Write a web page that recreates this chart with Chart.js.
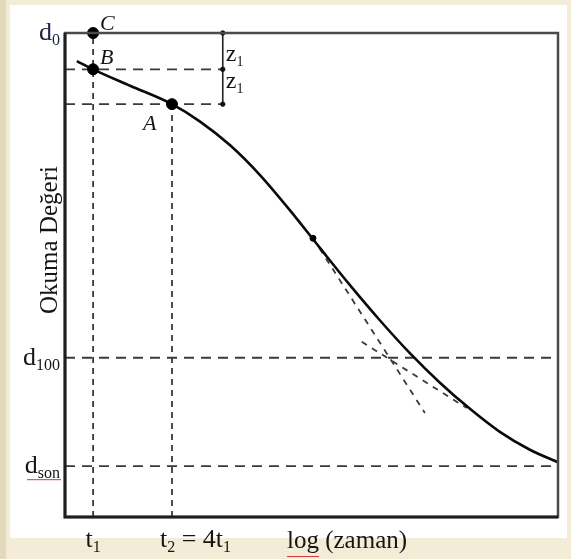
<!DOCTYPE html>
<html>
<head>
<meta charset="utf-8">
<script src="https://cdn.jsdelivr.net/npm/chart.js@4.4.1/dist/chart.umd.min.js"></script>
<style>
  body { margin: 0; background: #f3ecd7; }
  #wrap { width: 571px; height: 559px; }
</style>
</head>
<body>
<div id="wrap"><canvas id="consolidation" width="571" height="559"></canvas></div>
<script>
// consolidation curve: dial reading vs log(time), Casagrande construction
const logTime = [2.4, 5.7, 13.2, 21.7, 27.4, 33.5, 39.6, 45.6, 51.7, 57.8, 63.9, 70.0, 76.1, 82.2, 88.2, 94.3, 100];
const reading = [94.2, 92.5, 89.1, 85.3, 81.7, 76.8, 70.6, 63.4, 55.6, 47.9, 40.6, 33.8, 27.7, 22.3, 17.6, 13.9, 11.3];

// reference times and readings
const timeTicks = [5.7, 21.7];
const timeLabels = ['t_1', 't_2 = 4t_1'];
const readingTicks = [100, 32.9, 10.5];
const readingLabels = ['d_0', 'd_100', 'd_son'];

const dC = 100, dB = 92.5, dA = 85.3;
const zBarX = 32;

// tangent lines near the inflection and the tail
const tangentSteep = [[50.3, 57.6], [73.0, 21.5]];
const tangentTail = [[60.2, 36.2], [81.5, 22.5]];
const inflection = [50.3, 57.6];

const pts = arr => arr.map(p => ({x: p[0], y: p[1]}));
const curve = logTime.map((x, i) => ({x: x, y: reading[i]}));

function guide(points, dash) {
  return {
    data: pts(points), showLine: true, pointRadius: 0, clip: false,
    borderColor: '#3a3a3a', borderWidth: 1.8, borderDash: dash
  };
}

// draws text with "_xx" parts as subscripts
function richText(ctx, text, x, y, size, align) {
  const parts = [];
  text.split(/_(\w+)/).forEach((s, i) => { if (s) parts.push({s: s, sub: i % 2 === 1}); });
  const font = sub => (sub ? Math.round(size * 0.6) : size) + 'px "Liberation Serif", serif';
  let w = 0;
  parts.forEach(p => { ctx.font = font(p.sub); w += ctx.measureText(p.s).width; });
  let cx = align === 'right' ? x - w : align === 'center' ? x - w / 2 : x;
  parts.forEach(p => {
    ctx.font = font(p.sub);
    ctx.textAlign = 'left';
    ctx.fillText(p.s, cx, p.sub ? y + size * 0.2 : y);
    cx += ctx.measureText(p.s).width;
  });
}

const decorations = {
  id: 'decorations',
  beforeDraw(chart) {
    const ctx = chart.ctx;
    ctx.save();
    ctx.fillStyle = '#e3d9bc';
    ctx.fillRect(0, 0, 6, 559);
    ctx.fillStyle = '#ffffff';
    ctx.fillRect(10, 5, 557, 533);
    ctx.restore();
  },
  afterDraw(chart) {
    const ctx = chart.ctx;
    const a = chart.chartArea;
    const xs = chart.scales.x, ys = chart.scales.y;
    ctx.save();
    // frame
    ctx.strokeStyle = '#4a4a4a';
    ctx.lineWidth = 2.5;
    ctx.strokeRect(a.left, a.top, a.right - a.left, a.bottom - a.top);
    ctx.strokeStyle = '#1e1e1e';
    ctx.lineWidth = 3;
    ctx.beginPath();
    ctx.moveTo(a.left, a.top);
    ctx.lineTo(a.left, a.bottom);
    ctx.lineTo(a.right, a.bottom);
    ctx.stroke();

    ctx.fillStyle = '#151515';
    ctx.textBaseline = 'alphabetic';
    readingTicks.forEach((v, i) => {
      ctx.fillStyle = i === 0 ? '#1b2340' : '#151515';
      richText(ctx, readingLabels[i], a.left - 5, ys.getPixelForValue(v) + 7, 26, 'right');
    });
    // spell-check squiggle under d_son
    const ySon = ys.getPixelForValue(readingTicks[2]) + 12;
    ctx.strokeStyle = '#d23a3a';
    ctx.lineWidth = 1;
    ctx.beginPath();
    for (let x = 27; x <= 62; x += 2) ctx.lineTo(x, ySon + ((x / 2) % 2 ? 1.5 : 0));
    ctx.stroke();

    ctx.fillStyle = '#151515';
    richText(ctx, timeLabels[0], xs.getPixelForValue(timeTicks[0]), a.bottom + 30, 26, 'center');
    richText(ctx, timeLabels[1], xs.getPixelForValue(timeTicks[1]) - 12, a.bottom + 30, 26, 'left');

    // axis titles
    ctx.font = '25px "Liberation Serif", serif';
    ctx.textAlign = 'left';
    ctx.fillText('log (zaman)', a.left + 222, a.bottom + 31);
    ctx.strokeStyle = '#d23a3a';
    ctx.beginPath();
    for (let x = a.left + 222; x <= a.left + 254; x += 2) ctx.lineTo(x, a.bottom + 38 + ((x / 2) % 2 ? 1.5 : 0));
    ctx.stroke();

    ctx.translate(57, (a.top + a.bottom) / 2 - 35);
    ctx.rotate(-Math.PI / 2);
    ctx.textAlign = 'center';
    ctx.fillText('Okuma Değeri', 0, 0);
    ctx.setTransform(1, 0, 0, 1, 0, 0);

    // point names
    ctx.font = 'italic 22px "Liberation Serif", serif';
    ctx.textAlign = 'left';
    const px = xs.getPixelForValue(timeTicks[0]);
    ctx.fillText('C', px + 7, ys.getPixelForValue(dC) - 3);
    ctx.fillText('B', px + 7, ys.getPixelForValue(dB) - 5);
    ctx.fillText('A', xs.getPixelForValue(timeTicks[1]) - 29, ys.getPixelForValue(dA) + 26);

    // z1 marks on the bracket
    const zx = xs.getPixelForValue(zBarX) + 3;
    richText(ctx, 'z_1', zx, ys.getPixelForValue(dB) - 8, 24, 'left');
    richText(ctx, 'z_1', zx, ys.getPixelForValue(dA) - 16, 24, 'left');
    ctx.restore();
  }
};

new Chart(document.getElementById('consolidation'), {
  type: 'scatter',
  data: {
    datasets: [
      {data: pts([[timeTicks[0], dC], [timeTicks[0], dB], [timeTicks[1], dA]]),
       pointRadius: 5.5, backgroundColor: '#000', borderColor: '#000', clip: false},
      {data: pts([inflection]), pointRadius: 3, backgroundColor: '#000', borderColor: '#000', clip: false},
      {data: pts([[zBarX, dC], [zBarX, dB], [zBarX, dA]]),
       pointRadius: 2.2, backgroundColor: '#111', borderColor: '#111', clip: false},
      {data: curve, showLine: true, pointRadius: 0, borderColor: '#0a0a0a', borderWidth: 2.6,
       cubicInterpolationMode: 'monotone', clip: false},
      {data: pts([[zBarX, dC], [zBarX, dA]]), showLine: true, pointRadius: 0,
       borderColor: '#222', borderWidth: 1.6, clip: false},
      guide(tangentSteep, [6, 6]),
      guide(tangentTail, [6, 6]),
      guide([[0, dB], [zBarX, dB]], [10, 7]),
      guide([[0, dA], [zBarX, dA]], [10, 7]),
      guide([[0, readingTicks[1]], [100, readingTicks[1]]], [10, 7]),
      guide([[0, readingTicks[2]], [100, readingTicks[2]]], [10, 7]),
      guide([[timeTicks[0], 0], [timeTicks[0], dC]], [6, 5]),
      guide([[timeTicks[1], 0], [timeTicks[1], dA]], [6, 5])
    ]
  },
  options: {
    responsive: false,
    animation: false,
    layout: {padding: {left: 65, top: 33, right: 13, bottom: 42}},
    scales: {
      x: {type: 'linear', min: 0, max: 100, display: false},
      y: {type: 'linear', min: 0, max: 100, display: false}
    },
    plugins: {legend: {display: false}, tooltip: {enabled: false}}
  },
  plugins: [decorations]
});
</script>
</body>
</html>
